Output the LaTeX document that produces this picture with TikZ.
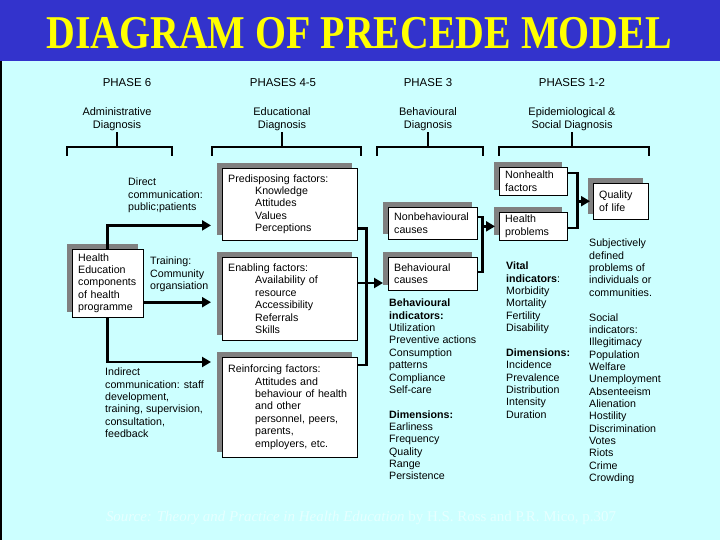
\documentclass[tikz,border=0pt]{standalone}
\usepackage{fontspec}
\setmainfont{Liberation Serif}
\setsansfont{Liberation Sans}
\usepackage{tikz}
\usetikzlibrary{arrows.meta,positioning,calc,shadows}
\definecolor{precedeblue}{HTML}{3333CC}
\definecolor{precedesky}{HTML}{CCFFFF}
\definecolor{precedeyellow}{HTML}{FFFF00}
\definecolor{precedegray}{HTML}{808080}
\definecolor{precedefaint}{HTML}{E6FFFF}

\newcommand{\ind}{\hspace*{27bp}}
\newcommand{\phasebrace}[3]{\draw[brace] (#1.south) -- (#1.south |- 0,147) (#2,156) -- (#2,147) -- (#3,147) -- (#3,156);}

\begin{document}
\begin{tikzpicture}[x=1bp, y=-1bp,
    factor/.style={rectangle, draw=black, line width=0.4bp, fill=white, anchor=north west, align=left, inner xsep=6bp, inner ysep=3bp, general shadow={fill=precedegray, shadow xshift=-5bp, shadow yshift=5bp}, font=\sffamily\fontsize{10.7}{12.4}\selectfont},
    col/.style={anchor=north west, align=left, inner sep=0pt, font=\sffamily\fontsize{10.7}{12.4}\selectfont},
    phase/.style={font=\sffamily\fontsize{11.5}{13}\selectfont},
    diag/.style={align=center, inner sep=1bp, font=\sffamily\fontsize{11}{13.5}\selectfont},
    link/.style={line width=2.8bp},
    brace/.style={line width=2.2bp},
    arr/.style={link, -{Triangle[length=9bp,width=10bp]}}
]
    \useasboundingbox (0,0) rectangle (720,540);
    \fill[precedesky] (0,0) rectangle (720,540);
    \fill[precedeblue] (0,0) rectangle (720,61);
    \draw[line width=2bp] (1,61) -- (1,540);

    % Title
    \node (title) [font=\rmfamily\bfseries\fontsize{40}{40}\selectfont, text=precedeyellow] at (359,33) {\scalebox{1}[1.18]{DIAGRAM OF PRECEDE MODEL}};

    % Phases
    \node (ph6) [phase] at (127,83) {PHASE 6};
    \node (ph45) [phase] at (283,83) {PHASES 4-5};
    \node (ph3) [phase] at (428,83) {PHASE 3};
    \node (ph12) [phase] at (572,83) {PHASES 1-2};

    \node (adm) [diag] at (117,119) {Administrative\\Diagnosis};
    \node (edu) [diag] at (282,119) {Educational\\Diagnosis};
    \node (beha) [diag] at (428,119) {Behavioural\\Diagnosis};
    \node (epi) [diag] at (572,119) {Epidemiological \&\\Social Diagnosis};

    \phasebrace{adm}{67}{172}
    \phasebrace{edu}{212}{361}
    \phasebrace{beha}{377}{483}
    \phasebrace{epi}{499}{649}

    % Phase 6
    \node (he) [factor, text width=59bp, minimum height=68bp] at (72,249) {Health\\Education\\components\\of health\\programme};

    \node (direct) [col] at (128,178) {Direct\\communication:\\public;patients};
    \node (train) [col] at (150,257) {Training:\\Community\\organsiation};
    \node (indirect) [col] at (105,368) {Indirect\\communication: staff\\development,\\training, supervision,\\consultation,\\feedback};

    % Phases 4-5
    \node (pre) [factor, text width=123bp, minimum height=72bp] at (222,168) {Predisposing factors:\\\ind Knowledge\\\ind Attitudes\\\ind Values\\\ind Perceptions};
    \node (ena) [factor, text width=123bp, minimum height=83bp] at (222,257) {Enabling factors:\\\ind Availability of\\\ind resource\\\ind Accessibility\\\ind Referrals\\\ind Skills};
    \node (rei) [factor, text width=123bp, minimum height=100bp] at (222,357) {Reinforcing factors:\\\ind Attitudes and\\\ind behaviour of health\\\ind and other\\\ind personnel, peers,\\\ind parents,\\\ind employers, etc.};

    % Phase 3
    \node (nonb) [factor, text width=77bp, minimum height=32bp] at (388,207) {Nonbehavioural\\causes};
    \node (beh) [factor, text width=77bp, minimum height=33bp] at (388,257) {Behavioural\\causes};
    \node (behind) [col] at (389,299) {\textbf{Behavioural}\\\textbf{indicators:}\\Utilization\\Preventive actions\\Consumption\\patterns\\Compliance\\Self-care\\[12.4bp]\textbf{Dimensions:}\\Earliness\\Frequency\\Quality\\Range\\Persistence};

    % Phases 1-2
    \node (nonh) [factor, text width=56bp, minimum height=28bp] at (499,167) {Nonhealth\\factors};
    \node (hp) [factor, text width=56bp, minimum height=28bp] at (499,212) {Health\\problems};
    \node (qol) [factor, text width=43bp, minimum height=36bp] at (593,183) {Quality\\of life};
    \node (vital) [col] at (506,262) {\textbf{Vital}\\\textbf{indicators}:\\Morbidity\\Mortality\\Fertility\\Disability\\[12.4bp]\textbf{Dimensions:}\\Incidence\\Prevalence\\Distribution\\Intensity\\Duration};
    \node (social) [col] at (589,239) {Subjectively\\defined\\problems of\\individuals or\\communities.\\[12.4bp]Social\\indicators:\\Illegitimacy\\Population\\Welfare\\Unemployment\\Absenteeism\\Alienation\\Hostility\\Discrimination\\Votes\\Riots\\Crime\\Crowding};

    % Connectors
    \draw[arr, shorten >=11bp] (he.north) |- ([yshift=15bp]pre.south west);
    \draw[arr, shorten >=11bp] ([yshift=-19bp]he.east) -- ([yshift=-19bp]he.east -| ena.west);
    \draw[arr, shorten >=11bp] (he.south) |- ([yshift=-5bp]rei.north west);

    \draw[link] ([yshift=12bp]pre.south east) -| ([xshift=9bp,yshift=-8bp]rei.north east) -- ([yshift=-8bp]rei.north east);
    \draw[arr, shorten >=5bp] ([yshift=-26bp]ena.north east) -- ([yshift=-26bp]ena.north east -| beh.west);

    \draw[link] ([yshift=-10bp]nonb.north east) -| ([xshift=5bp,yshift=-15bp]beh.north east) -- ([yshift=-15bp]beh.north east);
    \draw[arr, shorten >=4bp] ([xshift=5bp]nonb.east |- hp.west) -- (hp.west);

    \draw[link] ([yshift=-6bp]nonh.north east) -| ([xshift=10bp,yshift=-16bp]hp.north east) -- ([yshift=-16bp]hp.north east);
    \draw[arr, shorten >=3bp] ([xshift=10bp]nonh.east |- qol.west) -- (qol.west);

    % Source
    \node (source) [font=\rmfamily\fontsize{15}{15}\selectfont, text=precedefaint] at (361,518) {\textit{Source: Theory and Practice in Health Education} by H.S. Ross and P.R. Mico, p.307};
\end{tikzpicture}
\end{document}
